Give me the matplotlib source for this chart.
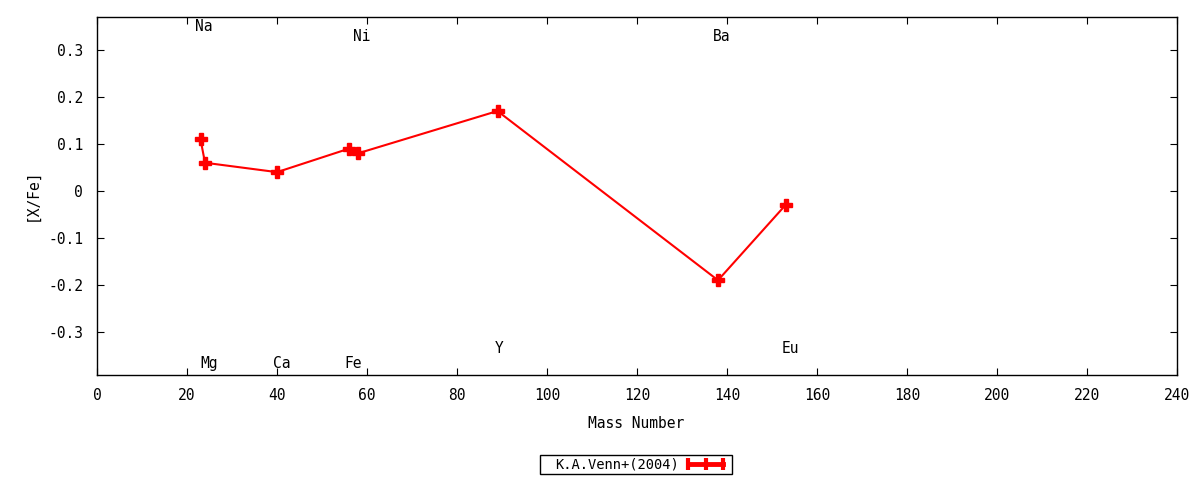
import matplotlib
matplotlib.use("Agg")
import matplotlib.pyplot as plt
from matplotlib.lines import Line2D
from matplotlib.patches import Rectangle

elements = ["Na", "Mg", "Ca", "Fe", "Ni", "Y", "Ba", "Eu"]
mass = [23, 24, 40, 56, 58, 89, 138, 153]
xfe = [0.11, 0.06, 0.04, 0.09, 0.08, 0.17, -0.19, -0.03]
label_y = [0.349, -0.366, -0.366, -0.366, 0.328, -0.336, 0.328, -0.336]
label_dx = [0.8, 1.0, 1.0, 1.0, 0.8, 0.3, 0.8, 1.0]
xticks = list(range(0, 241, 20))
yticks = [-0.3, -0.2, -0.1, 0, 0.1, 0.2, 0.3]
ytick_labels = ["-0.3", "-0.2", "-0.1", "0", "0.1", "0.2", "0.3"]
series_name = "K.A.Venn+(2004)"

plt.rcParams['font.family'] = ['DejaVu Sans Mono']
plt.rcParams['font.size'] = 10.5

fig = plt.figure(figsize=(12, 4.8), dpi=100)
ax = fig.add_axes([97/1200, 1-375/480, (1177-97)/1200, (375-17)/480])

ax.plot(mass, xfe, color='red', lw=1.5, marker='P', ms=8, mec='red', mfc='red', zorder=3)

for el, m, ly, dx in zip(elements, mass, label_y, label_dx):
    ax.text(m + dx, ly, el, ha='center', va='center')

ax.set_xlim(0, 240)
ax.set_ylim(-0.3915, 0.370)
ax.set_xticks(xticks)
ax.set_xticklabels([str(t) for t in xticks])
ax.set_yticks(yticks)
ax.set_yticklabels(ytick_labels)
ax.tick_params(axis='y', direction='in', length=5, width=0.8, right=True, pad=10)
ax.tick_params(axis='x', direction='in', length=5, width=0.8, top=True, pad=9)
for s in ax.spines.values():
    s.set_linewidth(1.0)

ax.set_xlabel("Mass Number", va='center')
ax.xaxis.set_label_coords((636 - 97) / 1080, -(424 - 375) / 358)
ax.set_ylabel("[X/Fe]", va='center')
ax.yaxis.set_label_coords(-(97 - 32) / 1080, (375 - 195) / 358)

handle = Line2D([0, 1], [0, 0], color='red', lw=3.5, marker='|', ms=9, mew=3)
leg = fig.legend([handle], [series_name],
                 loc='center left', bbox_to_anchor=(555/1200, 1-465/480), frameon=False,
                 markerfirst=False, handlelength=3.2, borderpad=0, fontsize=9.9,
                 handletextpad=0.35, numpoints=3, borderaxespad=0)
fig.add_artist(Rectangle((540/1200, 1-474/480), (732-540)/1200, (474-455)/480,
                         transform=fig.transFigure, fill=False, edgecolor='black', lw=1.0))

fig.savefig("out.png", dpi=100)
